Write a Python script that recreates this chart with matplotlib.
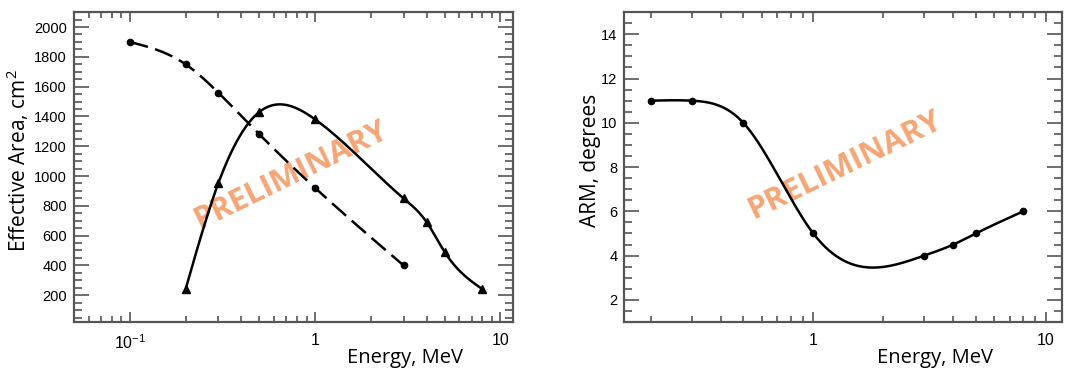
import numpy as np
import matplotlib
matplotlib.use("Agg")
import matplotlib.pyplot as plt
from matplotlib.ticker import FixedLocator, MultipleLocator, NullFormatter

# data
energy_dash = [0.1, 0.2, 0.3, 0.5, 1.0, 3.0]
area_dash = [1900, 1750, 1560, 1280, 920, 400]

energy_tri = [0.2, 0.3, 0.5, 1.0, 3.0, 4.0, 5.0, 8.0]
area_tri = [240, 950, 1430, 1380, 850, 690, 490, 240]

energy_arm = [0.2, 0.3, 0.5, 1.0, 3.0, 4.0, 5.0, 8.0]
arm_deg = [11.0, 11.0, 10.0, 5.0, 4.0, 4.5, 5.0, 6.0]

left_xticks = [0.1, 1, 10]
left_xticklabels = ["$10^{-1}$", "1", "10"]
right_xticks = [1, 10]
right_xticklabels = ["1", "10"]

WATERMARK = "#f5a575"
AXCOL = "#555555"
LABEL_FONT = "Open Sans"
TICK_FONT = "Liberation Sans"

plt.rcParams["font.family"] = [TICK_FONT, "DejaVu Sans"]
plt.rcParams["mathtext.fontset"] = "custom"
plt.rcParams["mathtext.rm"] = TICK_FONT
plt.rcParams["mathtext.it"] = TICK_FONT
plt.rcParams["mathtext.default"] = "regular"


def smooth(x, y, n=400):
    # natural cubic spline in log10(x), like ROOT's "C" draw option
    t = np.log10(np.asarray(x, float))
    y = np.asarray(y, float)
    k = len(t)
    h = np.diff(t)
    A = np.zeros((k, k))
    b = np.zeros(k)
    A[0, 0] = A[-1, -1] = 1
    for i in range(1, k - 1):
        A[i, i - 1] = h[i - 1]
        A[i, i] = 2 * (h[i - 1] + h[i])
        A[i, i + 1] = h[i]
        b[i] = 6 * ((y[i + 1] - y[i]) / h[i] - (y[i] - y[i - 1]) / h[i - 1])
    M = np.linalg.solve(A, b)
    tt = np.linspace(t[0], t[-1], n)
    j = np.clip(np.searchsorted(t, tt) - 1, 0, k - 2)
    a = t[j + 1] - tt
    c = tt - t[j]
    hj = h[j]
    yy = (M[j] * a**3 + M[j + 1] * c**3) / (6 * hj) \
        + (y[j] / hj - M[j] * hj / 6) * a + (y[j + 1] / hj - M[j + 1] * hj / 6) * c
    return 10**tt, yy


def style_axes(ax, xticks, xlabels):
    ax.set_xscale("log")
    ax.xaxis.set_major_locator(FixedLocator(xticks))
    ax.set_xticklabels(xlabels)
    minors = [m * 10.0**d for d in range(-2, 2) for m in range(2, 10)]
    ax.xaxis.set_minor_locator(FixedLocator(minors))
    ax.xaxis.set_minor_formatter(NullFormatter())
    for s in ax.spines.values():
        s.set_color(AXCOL)
        s.set_linewidth(1.6)
    ax.tick_params(which="both", direction="in", top=True, right=True,
                   color=AXCOL, width=1.2, labelsize=10.5)
    ax.tick_params(axis="x", which="major", length=7, pad=8, labelsize=11.5)
    ax.tick_params(axis="x", which="minor", length=4)
    ax.tick_params(axis="y", which="major", length=11, pad=5)
    ax.tick_params(axis="y", which="minor", length=6)


def watermark(ax, x, y):
    ax.text(x, y, "PRELIMINARY", transform=ax.transAxes, rotation=26,
            ha="center", va="center", color=WATERMARK, fontsize=22.5,
            fontweight="bold", family=LABEL_FONT, zorder=3)


def main():
    fig = plt.figure(figsize=(10.84, 3.68), dpi=100)
    ax1 = fig.add_axes([0.0683, 0.125, 0.405, 0.842])
    ax2 = fig.add_axes([0.576, 0.125, 0.4034, 0.842])

    # left: effective area
    xs, ys = smooth(energy_dash, area_dash)
    ax1.plot(xs, ys, color="black", lw=1.8, dashes=(7.5, 3), zorder=4)
    ax1.plot(energy_dash, area_dash, "o", color="black", ms=4.5, zorder=5)
    xs, ys = smooth(energy_tri, area_tri)
    ax1.plot(xs, ys, color="black", lw=1.8, zorder=4)
    ax1.plot(energy_tri, area_tri, "^", color="black", ms=6, zorder=5)
    ax1.yaxis.set_major_locator(MultipleLocator(200))
    ax1.yaxis.set_minor_locator(MultipleLocator(50))
    style_axes(ax1, left_xticks, left_xticklabels)
    ax1.set_xlim(0.05, 11.7)
    ax1.set_ylim(20, 2100)
    ax1.set_ylabel("Effective Area, cm$^2$", family=LABEL_FONT, fontsize=15,
                   va="center", ha="center")
    ax1.yaxis.set_label_coords(-0.128, 0.52)
    ax1.set_xlabel("Energy, MeV", family=LABEL_FONT, fontsize=14.5,
                   ha="right", va="baseline")
    ax1.xaxis.set_label_coords(0.886, -0.132)
    watermark(ax1, 0.494, 0.474)

    # right: ARM
    xs, ys = smooth(energy_arm, arm_deg)
    ax2.plot(xs, ys, color="black", lw=1.8, zorder=4)
    ax2.plot(energy_arm, arm_deg, "o", color="black", ms=4.5, zorder=5)
    ax2.yaxis.set_major_locator(MultipleLocator(2))
    ax2.yaxis.set_minor_locator(MultipleLocator(0.5))
    style_axes(ax2, right_xticks, right_xticklabels)
    ax2.set_xlim(0.154, 11.7)
    ax2.set_ylim(1, 15)
    ax2.set_ylabel("ARM, degrees", family=LABEL_FONT, fontsize=15,
                   va="center", ha="center")
    ax2.yaxis.set_label_coords(-0.078, 0.52)
    ax2.set_xlabel("Energy, MeV", family=LABEL_FONT, fontsize=14.5,
                   ha="right", va="baseline")
    ax2.xaxis.set_label_coords(0.843, -0.132)
    watermark(ax2, 0.505, 0.506)

    fig.savefig("out.png", dpi=100)


if __name__ == "__main__":
    main()
